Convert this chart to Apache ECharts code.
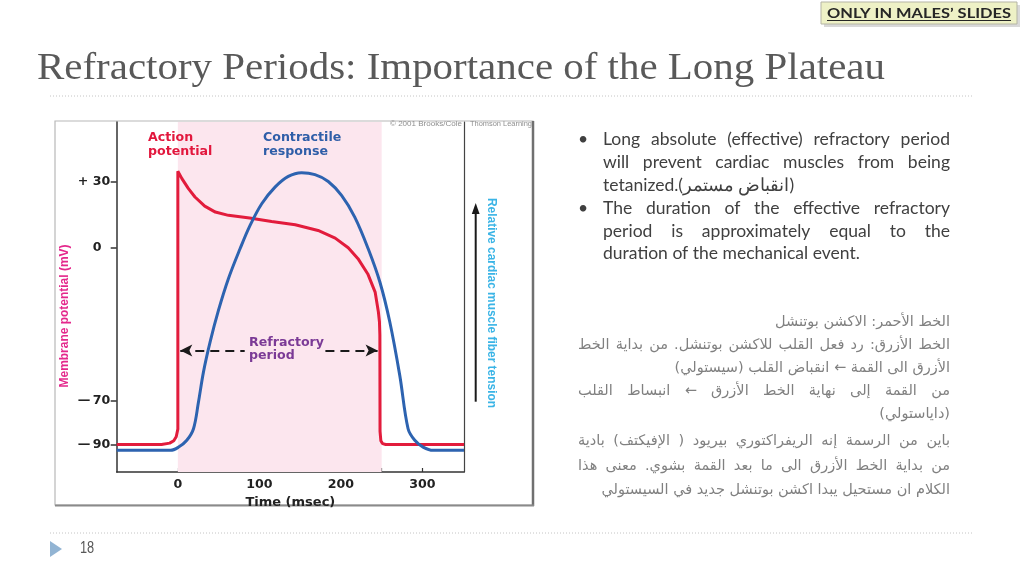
<!DOCTYPE html>
<html><head><meta charset="utf-8">
<script src="https://cdn.jsdelivr.net/npm/echarts@6/dist/echarts.min.js"></script>
<style>html,body{margin:0;padding:0;background:#fff;}#c{width:1024px;height:576px;}</style>
</head><body><div id="c"></div>
<script>
// ---- data (time in msec, value in mV-equivalent of the plot) ----
const actionPotential = [[-75,-90],[-20,-90],[-10,-89.4],[-5,-88.3],[-2,-86.5],[0,-83],[0,35],[5,31.6],[13,27],[21,23.2],[33,19],[46,16.3],[62,14.8],[88,13.6],[115,12],[144,10.5],[172,7.9],[193,4.4],[209,0],[221,-5],[233,-12],[242,-20.3],[246,-29.4],[247.3,-34],[247.8,-40],[248,-84],[249,-88.3],[251,-89.6],[255,-90],[351,-90]];
const contractileResponse = [[-75,-92.7],[-9,-92.7],[1,-91.2],[11,-88.1],[19.2,-82.8],[25.3,-70.6],[31.4,-56.9],[39.6,-43.1],[49.8,-28.7],[62,-14.2],[76.3,-0.5],[88.6,10.2],[102.9,20.1],[119.2,27.7],[135.5,32.6],[151.8,34.3],[168.2,33.4],[184.5,30.3],[200.8,23.9],[217,14],[233.5,-0.5],[247.8,-15.7],[260,-34],[272.2,-58.4],[282.4,-82.8],[290.6,-88.1],[300.8,-91.2],[313,-92.7],[351,-92.7]];
const refractoryPeriod = [0, 250];
const refractoryArrowLevel = -47;
const refractoryArrowX = [3, 82, 181, 245];
const xTickValues = [0, 50, 100, 150, 200, 250, 300];
const xLabelValues = [0, 100, 200, 300];
const yLabelValues = [30, 0, -70, -90];
const yLabelSigns = {'30': '+', '0': '', '-70': '—', '-90': '—'};

const titleText = 'Refractory Periods: Importance of the Long Plateau';
const bulletLines = [
  ['Long absolute (effective) refractory period', true],
  ['will prevent cardiac muscles from being', true],
  ['tetanized.(انقباض مستمر)', false],
  ['The duration of the effective refractory', true],
  ['period is approximately equal to the', true],
  ['duration of the mechanical event.', false]
];
const arabicLines = [
  ['الخط الأحمر: الاكشن بوتنشل', false],
  ['الخط الأزرق: رد فعل القلب للاكشن بوتنشل. من بداية الخط', true],
  ['الأزرق الى القمة ← انقباض القلب (سيستولي)', false],
  ['من القمة إلى نهاية الخط الأزرق ← انبساط القلب', true],
  ['(داياستولي)', false],
  ['باين من الرسمة إنه الريفراكتوري بيريود ( الإفيكتف) بادية', true],
  ['من بداية الخط الأزرق الى ما بعد القمة بشوي. معنى هذا', true],
  ['الكلام ان مستحيل يبدا اكشن بوتنشل جديد في السيستولي', false]
];

// ---- helpers ----
const mctx = document.createElement('canvas').getContext('2d');
function tw(t, font){ mctx.font = font; return mctx.measureText(t).width; }
function txt(t, x, y, font, fill, align, extra){
  return Object.assign({type:'text', x:x, y:y, silent:true, z:10,
    style:{text:t, font:font, fill:fill, align:align||'left', verticalAlign:'middle'}}, extra||{});
}
function fitScale(t, font, w){ return w / tw(t, font); }
const RLM = '\u200F';
function lineEls(text, justify, font, left, right, y, fill, rtl){
  const out = [];
  if (!justify){
    if (rtl) out.push(txt(RLM+text+RLM, right, y, font, fill, 'right'));
    else out.push(txt(text, left, y, font, fill, 'left'));
    return out;
  }
  const words = text.split(/\s+/);
  const ws = words.map(w => tw(w, font));
  const gap = (right - left - ws.reduce((a,b)=>a+b,0)) / (words.length - 1);
  if (!rtl){
    let x = left;
    words.forEach((w,i)=>{ out.push(txt(w, x, y, font, fill, 'left')); x += ws[i] + gap; });
  } else {
    let x = right;
    words.forEach((w,i)=>{ out.push(txt(RLM+w+RLM, x, y, font, fill, 'right')); x -= ws[i] + gap; });
  }
  return out;
}

// ---- fonts/sizes ----
const chartFont = 'DejaVu Sans';
const enBase = '16px Lato';
const enSize = 16 * 257 / tw(bulletLines[5][0], enBase);
const enFont = enSize.toFixed(2) + 'px Lato';
const arBase = '14px "DejaVu Sans"';
const arSize = 14 * 175 / tw(RLM+arabicLines[0][0]+RLM, arBase);
const arFont = arSize.toFixed(2) + 'px "DejaVu Sans"';
const titleFont = '37px "Liberation Serif"';
const boxFont = 'bold 14px Lato';

const graphics = [];
// title + rule
graphics.push(txt(titleText, 37, 69, titleFont, '#595959', 'left', {scaleX: fitScale(titleText, titleFont, 848)}));
graphics.push({type:'line', silent:true, shape:{x1:50,y1:96,x2:972,y2:96}, style:{stroke:'#c4c4c4', lineWidth:1, lineDash:[1,2]}});
graphics.push({type:'line', silent:true, shape:{x1:50,y1:533,x2:972,y2:533}, style:{stroke:'#c4c4c4', lineWidth:1, lineDash:[1,2]}});
// top-right box
graphics.push({type:'rect', silent:true, shape:{x:824,y:5,width:196,height:22}, style:{fill:'#d8d8d8'}});
graphics.push({type:'rect', silent:true, shape:{x:821,y:2,width:196,height:22}, style:{fill:'#eef1c6', stroke:'#b5b5a5', lineWidth:1}});
const boxText = 'ONLY IN MALES\u2019 SLIDES';
graphics.push(txt(boxText, 919, 13, boxFont, '#262626', 'center', {scaleX: fitScale(boxText, boxFont, 184)}));
graphics.push({type:'line', silent:true, shape:{x1:827,y1:20.5,x2:1011,y2:20.5}, style:{stroke:'#262626', lineWidth:1.2}});
// page number
graphics.push({type:'polygon', silent:true, shape:{points:[[50,541],[62,549],[50,557]]}, style:{fill:'#92b4d3'}});
graphics.push(txt('18', 80, 549, '16px "Liberation Sans"', '#595959', 'left', {scaleX:0.8}));
// bullets
const enY = [139, 162, 185, 208, 231, 253.5];
[0,3].forEach(i => graphics.push(txt('•', 578, enY[i], enFont, '#404040', 'left')));
bulletLines.forEach((l,i) => lineEls(l[0], l[1], enFont, 603, 950, enY[i], '#404040', false).forEach(e=>graphics.push(e)));
// arabic notes
const arY = [322, 345, 368, 391, 414, 441, 466, 490];
arabicLines.forEach((l,i) => lineEls(l[0], l[1], arFont, 578, 950, arY[i], '#808080', true).forEach(e=>graphics.push(e)));

// figure frame
graphics.push({type:'rect', silent:true, shape:{x:55,y:121,width:478,height:384}, style:{fill:null, stroke:'#b8b8b8', lineWidth:1.2}});
graphics.push({type:'line', silent:true, shape:{x1:533,y1:121,x2:533,y2:506}, style:{stroke:'#707070', lineWidth:2.5}});
graphics.push({type:'line', silent:true, shape:{x1:55,y1:505.5,x2:534,y2:505.5}, style:{stroke:'#8a8a8a', lineWidth:2}});
// copyright
const cpFont = '8px "Liberation Sans"';
graphics.push(txt('© 2001 Brooks/Cole', 462, 124, cpFont, '#8f8f8f', 'right', {scaleX: fitScale('© 2001 Brooks/Cole', cpFont, 72)}));
graphics.push(txt('Thomson Learning', 470, 124, cpFont, '#8f8f8f', 'left', {scaleX: fitScale('Thomson Learning', cpFont, 62)}));
// chart labels
const lblFont = 'bold 12.6px "' + chartFont + '"';
graphics.push(txt('Action', 148, 138, lblFont, '#e2173d'));
graphics.push(txt('potential', 148, 152, lblFont, '#e2173d'));
graphics.push(txt('Contractile', 263, 138, lblFont, '#2f5ea8'));
graphics.push(txt('response', 263, 152, lblFont, '#2f5ea8'));
graphics.push(txt('Refractory', 249, 343, lblFont, '#7b3a96'));
graphics.push(txt('period', 249, 356, lblFont, '#7b3a96'));
// axis side labels
const sideFont = 'bold 13px "Liberation Sans"';
const yName = 'Membrane potential (mV)';
graphics.push(txt(yName, 64.5, 316, sideFont, '#e4288c', 'center', {rotation: Math.PI/2, scaleX: fitScale(yName, sideFont, 143)}));
const rName = 'Relative cardiac muscle fiber tension';
graphics.push(txt(rName, 491.5, 303, sideFont, '#3ab4e6', 'center', {rotation: -Math.PI/2, scaleX: fitScale(rName, sideFont, 210)}));
// tension arrow
graphics.push({type:'line', silent:true, shape:{x1:475.7,y1:401.7,x2:475.7,y2:212}, style:{stroke:'#1a1a1a', lineWidth:2}});
graphics.push({type:'polygon', silent:true, shape:{points:[[475.7,203],[471.8,214],[479.6,214]]}, style:{fill:'#1a1a1a'}});

const chart = echarts.init(document.getElementById('c'), null, {renderer:'canvas'});
const axisFont = {fontFamily: chartFont, fontWeight:'bold', fontSize:12.6, color:'#222'};
chart.setOption({
  backgroundColor:'#ffffff',
  animation:false,
  grid:{left:116.7, right:560, top:122, bottom:104, containLabel:false, outerBoundsMode:'none'},
  xAxis:{type:'value', min:-75, max:351,
    axisLine:{show:true, onZero:false, lineStyle:{color:'#333', width:1.5}},
    axisTick:{show:true, inside:true, length:4, customValues:xTickValues, lineStyle:{color:'#333', width:1.2}},
    axisLabel:Object.assign({customValues:xLabelValues, margin:6}, axisFont),
    splitLine:{show:false},
    name:'Time (msec)', nameLocation:'middle', nameGap:22,
    nameTextStyle:{fontFamily:chartFont, fontWeight:'bold', fontSize:13, color:'#222'}
  },
  yAxis:[{type:'value', min:-102.6, max:57.5,
    axisLine:{show:true, onZero:false, lineStyle:{color:'#333', width:1.5}},
    axisTick:{show:true, length:6, customValues:yLabelValues, lineStyle:{color:'#333', width:1.5}},
    axisLabel:{customValues:yLabelValues, margin:7,
      formatter: v => '{s|' + (yLabelSigns[String(v)]||'') + '}{n|' + Math.abs(v) + '}',
      rich:{ s:Object.assign({width:15, align:'left'}, axisFont), n:Object.assign({width:17, align:'left'}, axisFont)}},
    splitLine:{show:false}
  },{type:'value', min:-102.6, max:57.5, position:'right',
    axisLine:{show:true, onZero:false, lineStyle:{color:'#444', width:1.2}},
    axisTick:{show:false}, axisLabel:{show:false}, splitLine:{show:false}
  }],
  series:[
    {type:'line', data:[], z:1, silent:true,
      markArea:{silent:true, itemStyle:{color:'#fce6ee'}, data:[[{xAxis:refractoryPeriod[0]},{xAxis:refractoryPeriod[1]}]]},
      markLine:{silent:true, symbolSize:[9,12], label:{show:false},
        lineStyle:{color:'#1a1a1a', width:2, type:[9,6]},
        data:[
          [{coord:[refractoryArrowX[0], refractoryArrowLevel], symbol:'arrow'},{coord:[refractoryArrowX[1], refractoryArrowLevel], symbol:'none'}],
          [{coord:[refractoryArrowX[2], refractoryArrowLevel], symbol:'none'},{coord:[refractoryArrowX[3], refractoryArrowLevel], symbol:'arrow'}]
        ]}
    },
    {name:'Action potential', type:'line', data:actionPotential, showSymbol:false, smooth:false, z:3,
      lineStyle:{color:'#e21c3c', width:3}, itemStyle:{color:'#e21c3c'}},
    {name:'Contractile response', type:'line', data:contractileResponse, showSymbol:false, smooth:0.35, z:4,
      lineStyle:{color:'#2d63b0', width:3}, itemStyle:{color:'#2d63b0'}}
  ],
  graphic: graphics
});
</script></body></html>
